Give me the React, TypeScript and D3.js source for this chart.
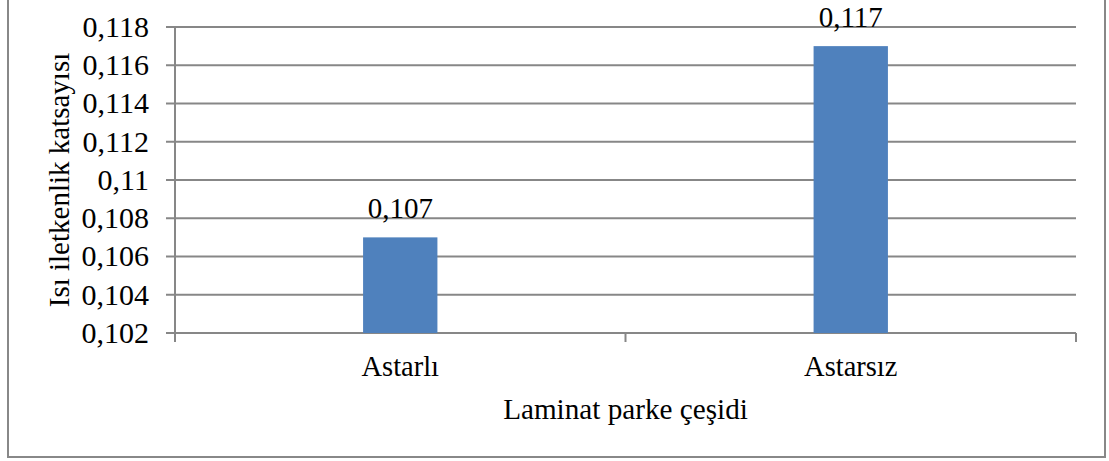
import React from "react";
import * as d3 from "d3";

const categories = ["Astarlı", "Astarsız"];
const values = [0.107, 0.117];
const yTicks = [0.102, 0.104, 0.106, 0.108, 0.11, 0.112, 0.114, 0.116, 0.118];
const xTitle = "Laminat parke çeşidi";
const yTitle = "Isı iletkenlik katsayısı";

const W = 1109;
const H = 461;
const left = 175;
const right = 1076;
const top = 27;
const bottom = 333;
const FONT = "'Liberation Serif', 'Times New Roman', Times, serif";
const GRID = "#878787";

const locale = d3.formatLocale({ decimal: ",", thousands: ".", grouping: [3], currency: ["", ""] });
const fmt = locale.format(".3~f");

export default function App() {
  const x = d3.scaleBand<string>().domain(categories).range([left, right]).padding(0);
  const y = d3.scaleLinear().domain([0.102, 0.118]).range([bottom, top]);
  const bw = x.bandwidth() * 0.165;
  const boundaries = [left, ...categories.map((c) => (x(c) as number) + x.bandwidth())];

  return (
    <svg
      width={W}
      height={H}
      style={{ position: "absolute", left: 0, top: 0, background: "#fff", fontFamily: FONT }}
    >
      <rect x={8} y={-10} width={1097} height={467} fill="#fff" stroke="#888" strokeWidth={2} />
      {yTicks.map((t) => (
        <g key={t}>
          <line x1={left - 9} x2={right} y1={y(t)} y2={y(t)} stroke={GRID} strokeWidth={2} />
          <text x={149} y={y(t)} dy="0.33em" textAnchor="end" fontSize={30} fill="#000">
            {fmt(t)}
          </text>
        </g>
      ))}
      <line x1={left} x2={left} y1={top} y2={bottom + 9} stroke={GRID} strokeWidth={2} />
      {boundaries.slice(1).map((b, i) => (
        <line key={i} x1={b} x2={b} y1={bottom} y2={bottom + 9} stroke={GRID} strokeWidth={2} />
      ))}
      {categories.map((c, i) => {
        const cx = (x(c) as number) + x.bandwidth() / 2;
        return (
          <g key={c}>
            <rect
              x={cx - bw / 2}
              y={y(values[i])}
              width={bw}
              height={bottom - y(values[i])}
              fill="#4F81BD"
            />
            <text x={cx} y={y(values[i]) - 19} textAnchor="middle" fontSize={29} fill="#000">
              {fmt(values[i])}
            </text>
            <text x={cx} y={376} textAnchor="middle" fontSize={28.5} fill="#000">
              {c}
            </text>
          </g>
        );
      })}
      <text x={(left + right) / 2} y={419} textAnchor="middle" fontSize={29.2} fill="#000">
        {xTitle}
      </text>
      <text
        transform={`translate(69, 180) rotate(-90)`}
        textAnchor="middle"
        fontSize={29}
        fill="#000"
      >
        {yTitle}
      </text>
    </svg>
  );
}
